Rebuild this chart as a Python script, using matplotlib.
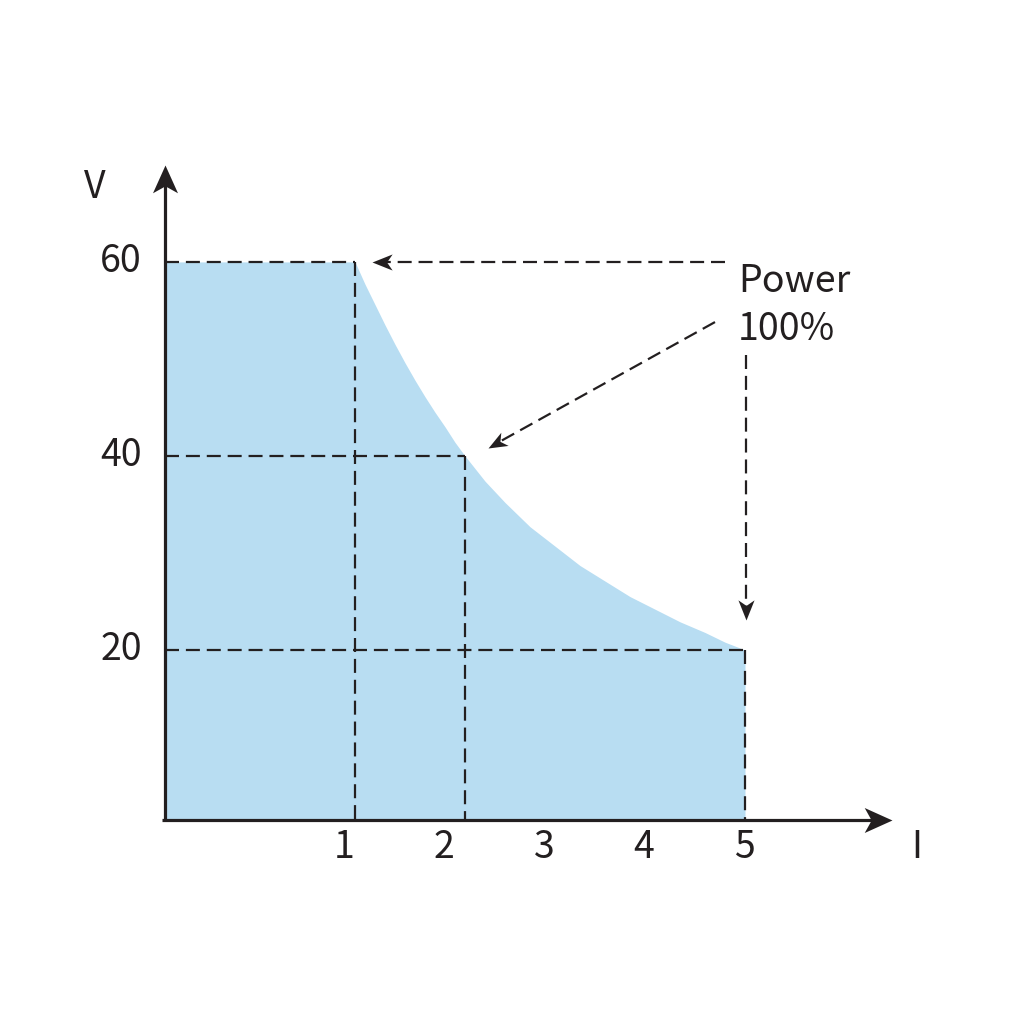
import numpy as np
import matplotlib.pyplot as plt
from matplotlib.path import Path

plt.rcParams['font.family'] = ['Noto Sans CJK SC', 'DejaVu Sans']

# Envelope (current I, voltage V)
curve_i = [1.11, 1.21, 1.31, 1.41, 1.51, 1.61, 1.71, 1.81, 1.91, 2.01, 2.11,
           2.21, 2.41, 2.61, 2.86, 3.11, 3.36, 3.61, 3.86, 4.11, 4.36, 4.61,
           4.81, 5.01]
curve_v = [60.0, 57.7, 55.6, 53.5, 51.5, 49.6, 47.8, 46.1, 44.5, 43.0, 41.4,
           40.0, 37.4, 35.2, 32.7, 30.7, 28.7, 27.1, 25.5, 24.2, 22.9, 21.8,
           20.8, 20.0]

# Corner points marked with dashed guides
corner_i = [1.11, 2.21, 5.01]
corner_v = [60, 40, 20]

x_ticks = [1, 2, 3, 4, 5]
y_ticks = [20, 40, 60]

ink = '#231f20'
fill_col = '#b8ddf2'

fig = plt.figure(figsize=(10.24, 10.24), dpi=100)
ax = fig.add_axes([0, 0, 1, 1])
ax.set_xlim(-2.44, 7.80)
ax.set_ylim(-18.56, 87.0)
ax.axis('off')

# pixels per data unit, used only to orient the arrowheads
px_x, px_y = 100.0, 9.7

x0, y0 = -0.79, 2.47   # axis origin
x_end, y_end = 6.48, 70.0


def head(x, y, angle, size, half_w, notch):
    # stealth-like arrowhead with its tip on (x, y), pointing at angle (deg)
    verts = np.array([[0, 0], [-half_w, -2], [0, -notch], [half_w, -2], [0, 0]], float)
    a = np.deg2rad(angle - 90)
    rot = np.array([[np.cos(a), -np.sin(a)], [np.sin(a), np.cos(a)]])
    verts = verts @ rot.T
    # two stray move-to points keep the marker scale fixed
    p = Path(np.vstack([verts, [[2, 2], [-2, -2]]]),
             [Path.MOVETO, Path.LINETO, Path.LINETO, Path.LINETO, Path.CLOSEPOLY,
              Path.MOVETO, Path.MOVETO])
    ax.plot([x], [y], marker=p, markersize=size, color=ink, mec='none',
            linestyle='none', zorder=4)


# Filled operating area
fill_i = [x0] + curve_i
fill_v = [curve_v[0]] + curve_v
ax.fill_between(fill_i, y0, fill_v, color=fill_col, lw=0, zorder=1)

dash = (0, (6.3, 3.1))
for ci, cv in zip(corner_i, corner_v):
    ax.plot([x0, ci], [cv, cv], color=ink, lw=1.6, linestyle=dash, zorder=2)
    ax.plot([ci, ci], [cv, y0], color=ink, lw=1.6, linestyle=dash, zorder=2)

# Axes with arrowheads
ax.plot([x0, x0], [y0 - 0.15, y_end - 1.5], color=ink, lw=2.3, zorder=3,
        solid_capstyle='butt')
ax.plot([x0 - 0.03, x_end - 0.15], [y0, y0], color=ink, lw=2.3, zorder=3,
        solid_capstyle='butt')
head(x0, y_end, 90, 40, 0.9, 1.5)
head(x_end, y0, 0, 40, 0.9, 1.5)

fs = 27
for t in y_ticks:
    ax.text(-1.02, t, str(t), ha='right', va='center', fontsize=fs, color=ink)
for t in x_ticks:
    ax.text(t, -0.4, str(t), ha='center', va='center', fontsize=fs, color=ink)
ax.text(-1.49, 67.7, 'V', ha='center', va='center', fontsize=fs, color=ink)
ax.text(6.73, -0.4, 'I', ha='center', va='center', fontsize=fs, color=ink)

ax.text(4.94, 56.9, 'Power', ha='left', va='baseline', fontsize=fs, color=ink)
ax.text(4.94, 52.0, '100%', ha='left', va='baseline', fontsize=fs, color=ink)

# Dashed pointer arrows from the label
pointers = [((4.81, 60.0), (1.28, 60.0)),
            ((4.71, 53.8), (2.44, 40.8)),
            ((5.02, 50.4), (5.02, 23.1))]
for (sx, sy), (tx, ty) in pointers:
    dx, dy = (tx - sx) * px_x, (ty - sy) * px_y
    ang = np.degrees(np.arctan2(dy, dx))
    frac = 12.0 / np.hypot(dx, dy)
    fx, fy = tx + (sx - tx) * frac, ty + (sy - ty) * frac
    ax.plot([sx, fx], [sy, fy], color=ink, lw=1.6, linestyle=dash, zorder=2)
    head(tx, ty, ang, 29, 0.8, 1.45)

fig.savefig('out.png', dpi=100, facecolor='white')
